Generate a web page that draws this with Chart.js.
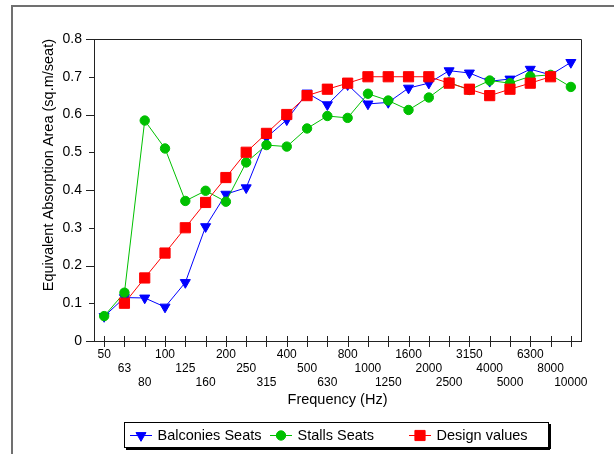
<!DOCTYPE html>
<html>
<head>
<meta charset="utf-8">
<script src="https://cdn.jsdelivr.net/npm/chart.js@4/dist/chart.umd.min.js"></script>
<style>
  html, body { margin: 0; padding: 0; background: #fff; overflow: hidden; }
  #wrap { width: 614px; height: 454px; }
  #chart { display: block; }
</style>
</head>
<body>
<div id="wrap"><canvas id="chart" width="614" height="454"></canvas></div>
<script>
// frequency bands (Hz)
const frequencies = ['50', '63', '80', '100', '125', '160', '200', '250', '315', '400', '500', '630',
  '800', '1000', '1250', '1600', '2000', '2500', '3150', '4000', '5000', '6300', '8000', '10000'];

// equivalent absorption area, sq.m per seat
const balconiesSeats = [0.065, 0.115, 0.114, 0.090, 0.155, 0.303, 0.389, 0.406, 0.539, 0.586, 0.657, 0.626,
  0.679, 0.628, 0.632, 0.670, 0.683, 0.716, 0.710, 0.688, 0.694, 0.720, 0.705, 0.738];
const stallsSeats = [0.066, 0.128, 0.584, 0.510, 0.371, 0.398, 0.369, 0.473, 0.519, 0.515, 0.563, 0.596,
  0.591, 0.655, 0.637, 0.612, 0.645, 0.685, 0.665, 0.690, 0.683, 0.701, 0.705, 0.673];
const designValues = [null, 0.100, 0.167, 0.233, 0.300, 0.367, 0.433, 0.500, 0.550, 0.600, 0.650, 0.667,
  0.683, 0.700, 0.700, 0.700, 0.700, 0.683, 0.667, 0.650, 0.667, 0.683, 0.700, null];

const yMin = 0;
const yMax = 0.8;
const yStep = 0.05;

const FONT = 'Liberation Sans, Arial, sans-serif';
const AXIS = '#222';

const series = [
  { label: 'Balconies Seats', data: balconiesSeats, color: '#0000ff', style: 'triangle', radius: 5.8, rotation: 180, order: 3 },
  { label: 'Stalls Seats', data: stallsSeats, color: '#00c000', style: 'circle', radius: 4.7, rotation: 0, order: 2 },
  { label: 'Design values', data: designValues, color: '#ff0000', style: 'rect', radius: 7.2, rotation: 0, order: 1 }
];

// outer frame, plot box, tick marks and the boxed legend
const decorations = {
  id: 'decorations',
  beforeDraw(chart) {
    const ctx = chart.ctx;
    ctx.save();
    ctx.strokeStyle = '#707070';
    ctx.lineWidth = 2;
    ctx.strokeRect(12, 6, 700, 600);
    ctx.restore();
  },
  afterDraw(chart) {
    const ctx = chart.ctx;
    const area = chart.chartArea;
    const xs = chart.scales.x;
    const ys = chart.scales.y;
    ctx.save();
    ctx.strokeStyle = AXIS;
    ctx.lineWidth = 1;
    ctx.beginPath();
    // top and right edges of the plot box
    ctx.moveTo(area.left, area.top + 0.5);
    ctx.lineTo(area.right + 0.5, area.top + 0.5);
    ctx.lineTo(area.right + 0.5, area.bottom);
    // x ticks cross the axis
    xs.ticks.forEach((t, i) => {
      const x = Math.round(xs.getPixelForTick(i)) + 0.5;
      ctx.moveTo(x, area.bottom - 5);
      ctx.lineTo(x, area.bottom + 6);
    });
    // y ticks: long on labelled values, short in between
    ys.ticks.forEach((t, i) => {
      const y = Math.round(ys.getPixelForTick(i)) + 0.5;
      const len = i % 2 === 0 ? 8 : 5;
      ctx.moveTo(area.left - len, y);
      ctx.lineTo(area.left, y);
    });
    ctx.stroke();

    // legend box with shadow
    const box = { x: 124.5, y: 422.5, w: 424, h: 25 };
    ctx.fillStyle = '#000';
    ctx.fillRect(box.x + 1.5, box.y + box.h, box.w, 2.5);
    ctx.fillRect(box.x + box.w, box.y + 1.5, 2.5, box.h);
    ctx.fillStyle = '#fff';
    ctx.fillRect(box.x, box.y, box.w, box.h);
    ctx.strokeStyle = '#000';
    ctx.strokeRect(box.x, box.y, box.w, box.h);

    const cy = 435.5;
    const starts = [130, 270, 409];
    ctx.font = '14.5px ' + FONT;
    ctx.textBaseline = 'middle';
    ctx.textAlign = 'left';
    chart.data.datasets.forEach((ds, i) => {
      const x0 = starts[i];
      ctx.strokeStyle = ds.borderColor;
      ctx.fillStyle = ds.borderColor;
      ctx.lineWidth = 1;
      ctx.beginPath();
      ctx.moveTo(x0, cy);
      ctx.lineTo(x0 + 22, cy);
      ctx.stroke();
      Chart.helpers.drawPoint(ctx, {
        pointStyle: ds.pointStyle,
        radius: ds.pointRadius,
        rotation: ds.pointRotation,
        borderWidth: 1
      }, x0 + 11, cy);
      ctx.fillStyle = '#000';
      ctx.fillText(ds.label, x0 + 27.5, cy);
    });
    ctx.restore();
  }
};

new Chart(document.getElementById('chart'), {
  type: 'line',
  data: {
    labels: frequencies,
    datasets: series.map(s => ({
      label: s.label,
      data: s.data,
      borderColor: s.color,
      backgroundColor: s.color,
      borderWidth: 1,
      pointStyle: s.style,
      pointRadius: s.radius,
      pointRotation: s.rotation,
      pointBackgroundColor: s.color,
      pointBorderColor: s.color,
      pointBorderWidth: 1,
      tension: 0,
      fill: false,
      order: s.order
    }))
  },
  options: {
    responsive: false,
    animation: false,
    layout: { padding: { left: 12, right: 33, top: 39, bottom: 40 } },
    plugins: {
      legend: { display: false },
      tooltip: { enabled: false }
    },
    scales: {
      x: {
        type: 'category',
        offset: true,
        grid: { display: false, drawTicks: false },
        border: { display: true, color: AXIS, width: 1 },
        afterFit: scale => { scale.height = 73; },
        ticks: {
          autoSkip: false,
          maxRotation: 0,
          minRotation: 0,
          padding: 6,
          color: '#000',
          font: { family: FONT, size: 12, lineHeight: 1.2 },
          // three staggered rows of band labels
          callback: function(value, index) {
            const label = frequencies[index];
            if (index % 3 === 0) return [label];
            if (index % 3 === 1) return ['', label];
            return ['', '', label];
          }
        },
        title: {
          display: true,
          text: 'Frequency (Hz)',
          color: '#000',
          font: { family: FONT, size: 14.5, lineHeight: 1.2 },
          padding: { top: 0, bottom: 5 }
        }
      },
      y: {
        min: yMin,
        max: yMax,
        grid: { display: false, drawTicks: false },
        border: { display: true, color: AXIS, width: 1 },
        afterFit: scale => { scale.width = 82; },
        ticks: {
          stepSize: yStep,
          padding: 12,
          color: '#000',
          font: { family: FONT, size: 14 },
          callback: function(value) {
            const n = Math.round(value / yStep);
            return n % 2 === 0 ? String(Math.round(value * 10) / 10) : '';
          }
        },
        title: {
          display: true,
          align: 'end',
          text: 'Equivalent Absorption Area (sq.m/seat)',
          color: '#000',
          font: { family: FONT, size: 14.5, lineHeight: 1.2 },
          padding: { top: 28, bottom: 0 }
        }
      }
    }
  },
  plugins: [decorations]
});
</script>
</body>
</html>
